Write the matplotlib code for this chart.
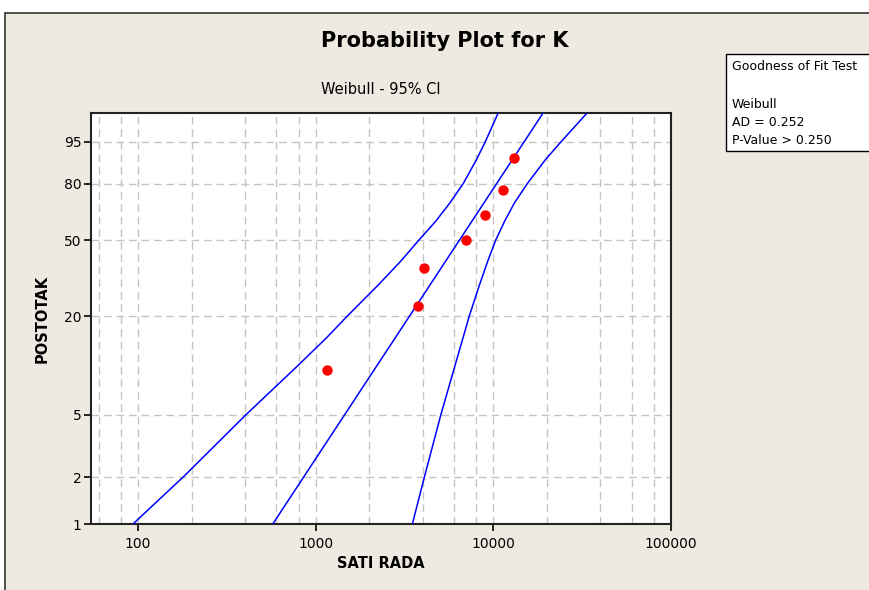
import numpy as np
import matplotlib
matplotlib.use("Agg")
import matplotlib.pyplot as plt
from matplotlib.patches import Rectangle
from matplotlib.ticker import NullFormatter, NullLocator

# Data
hours = [1150, 3750, 4050, 7000, 9000, 11400, 13100]
percent = [9.46, 22.97, 36.49, 50.0, 63.51, 77.03, 90.54]

# fitted Weibull line (end points at 1% and 99%)
fit_pct = [1, 99]
fit_hours = [573, 19050]

# 95% confidence bands
ci_pct = [1, 2, 5, 10, 15, 20, 30, 40, 50, 60, 70, 80, 90, 95, 99]
ci_lower = [93.6, 179, 405, 785, 1157, 1506, 2260, 3034, 3812, 4733,
            5689, 6769, 8043, 9003, 10640]
ci_upper = [3499, 4088, 5064, 6063, 6761, 7316, 8364, 9324, 10316, 11564,
            13130, 15540, 19670, 24020, 33700]

x_major = [100, 1000, 10000, 100000]
x_grid = [60, 80, 200, 400, 600, 800, 2000, 4000, 6000, 8000,
          20000, 40000, 60000, 80000]
y_ticks = [1, 2, 5, 20, 50, 80, 95]

gof_lines = ["Weibull", "AD = 0.252", "P-Value > 0.250"]

BG = "#EEEAE1"
W, H = 870, 590


def weib_fwd(p):
    p = np.clip(np.asarray(p, dtype=float), 1e-6, 100 - 1e-6)
    return np.log(-np.log(1 - p / 100.0))


def weib_inv(y):
    return 100.0 * (1 - np.exp(-np.exp(np.asarray(y, dtype=float))))


fig = plt.figure(figsize=(W / 100, H / 100), dpi=100)
fig.patch.set_facecolor("white")

# beige frame with dark top/left border
fig.patches.append(Rectangle((5 / W, -0.05), 1.1, 1 - 13 / H + 0.05,
                             transform=fig.transFigure, facecolor=BG,
                             edgecolor="#333333", linewidth=1.2, zorder=-5))

ax = fig.add_axes([91 / W, 1 - 524 / H, 580 / W, 411 / H], zorder=2)
ax.set_facecolor("white")
ax.set_xscale("log")
ax.set_yscale("function", functions=(weib_fwd, weib_inv))
ax.set_xlim(54.3, 100000)
ax.set_ylim(1, 99)

# CI bands and fit line
ax.plot(ci_lower, ci_pct, color="#0000FF", lw=1.1, zorder=3)
ax.plot(ci_upper, ci_pct, color="#0000FF", lw=1.1, zorder=3)
ax.plot(fit_hours, fit_pct, color="#0000FF", lw=1.1, zorder=3)
ax.plot(hours, percent, "o", color="#FF0000", markersize=7.5,
        markeredgewidth=0, zorder=4)

# ticks
ax.set_xticks(x_major)
ax.set_xticklabels([str(v) for v in x_major])
ax.set_xticks(x_grid, minor=True)
ax.xaxis.set_minor_formatter(NullFormatter())
ax.set_yticks(y_ticks)
ax.set_yticklabels([str(v) for v in y_ticks])
ax.yaxis.set_minor_locator(NullLocator())
ax.tick_params(which="major", direction="out", length=5, width=1.2,
               labelsize=10, colors="black")
ax.tick_params(axis="y", pad=2)
ax.tick_params(axis="x", pad=4)
ax.tick_params(which="minor", length=0)

grid_kw = dict(color="#C4C4C4", linestyle=(0, (5.5, 3.5)), linewidth=1.0)
ax.grid(True, which="both", axis="x", **grid_kw)
ax.grid(True, which="major", axis="y", **grid_kw)
ax.set_axisbelow(True)

for sp in ax.spines.values():
    sp.set_color("#222222")
    sp.set_linewidth(1.5)

ax.set_xlabel("SATI RADA", fontsize=10.5, fontweight="bold")
ax.set_ylabel("POSTOTAK", fontsize=10.5, fontweight="bold")
ax.xaxis.set_label_coords((381 - 91) / 580, (524 - 563) / 411)
ax.xaxis.label.set_va("center")
ax.yaxis.set_label_coords((42 - 91) / 580, 0.5)
ax.yaxis.label.set_va("center")

# titles
fig.text(445 / W, 1 - 41 / H, "Probability Plot for K", fontsize=15,
         fontweight="bold", ha="center", va="center")
fig.text(381 / W, 1 - 90 / H, "Weibull - 95% CI", fontsize=10.5,
         ha="center", va="center")

# goodness of fit box
fig.patches.append(Rectangle((726 / W, 1 - 151 / H), 0.3, 97 / H,
                             transform=fig.transFigure, facecolor="white",
                             edgecolor="black", linewidth=1.0, zorder=1))
fig.text(732 / W, 1 - 67 / H, "Goodness of Fit Test", fontsize=9,
         ha="left", va="center")
for i, line in enumerate(gof_lines):
    fig.text(732 / W, 1 - (104 + 18 * i) / H, line, fontsize=9,
             ha="left", va="center")

plt.savefig("out.png", dpi=100, facecolor=fig.get_facecolor())
plt.close()
